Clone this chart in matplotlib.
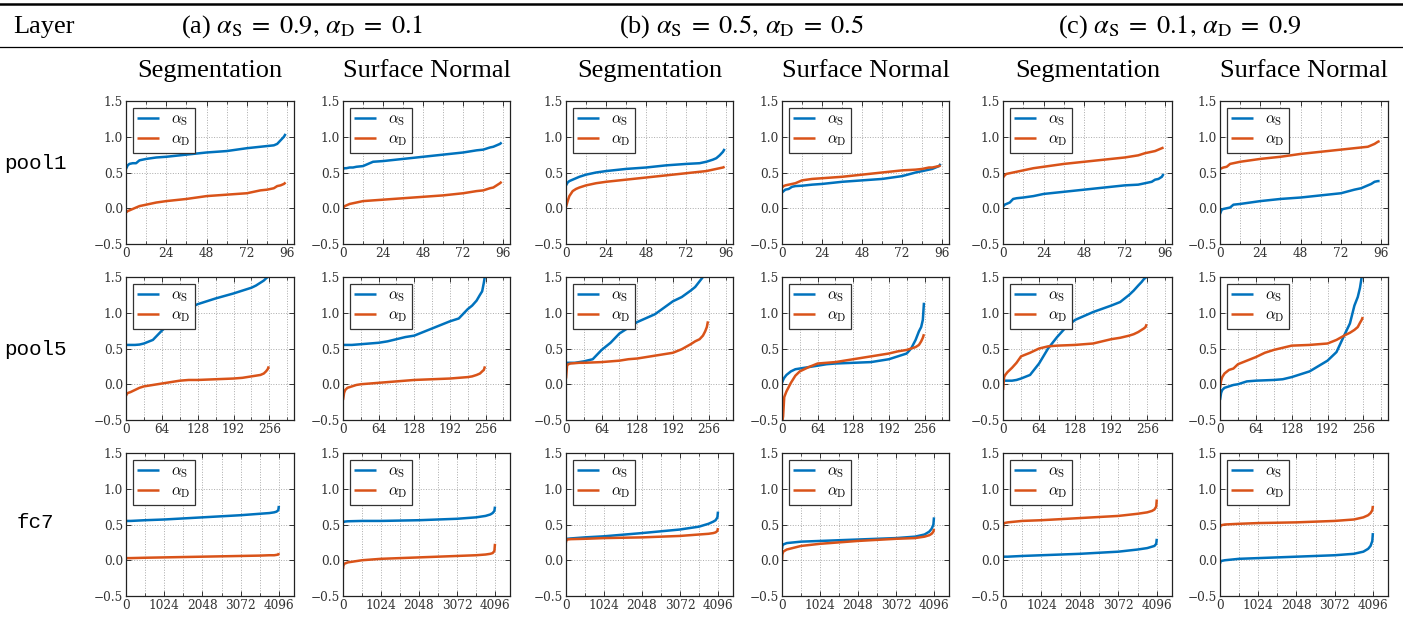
import matplotlib
matplotlib.use("Agg")
import matplotlib.pyplot as plt
from matplotlib.lines import Line2D
from matplotlib.ticker import MultipleLocator

# ---------------- data ----------------
# channel index samples per layer
x_pool1 = [0, 1, 2, 4, 6, 8, 12, 18, 24, 36, 48, 60, 72, 80, 84, 88, 90, 92, 94, 95]
x_pool5 = [0, 2, 4, 8, 16, 24, 32, 48, 64, 80, 96, 112, 128, 160, 192, 208, 224, 232, 240, 246, 250, 253, 255]
x_fc7 = [0, 8, 32, 128, 512, 1024, 2048, 3072, 3584, 3840, 3968, 4032, 4080, 4095]

# pool1
pool1_a_seg_S = [0.55, 0.60, 0.62, 0.63, 0.63, 0.67, 0.69, 0.71, 0.72, 0.75, 0.78, 0.80, 0.84, 0.86, 0.87, 0.88, 0.90, 0.95, 1.00, 1.04]
pool1_a_seg_D = [-0.06, -0.04, -0.03, -0.01, 0.01, 0.03, 0.05, 0.08, 0.10, 0.13, 0.17, 0.19, 0.21, 0.25, 0.26, 0.28, 0.31, 0.32, 0.34, 0.36]
pool1_a_surf_S = [0.55, 0.56, 0.56, 0.57, 0.57, 0.58, 0.59, 0.65, 0.66, 0.69, 0.72, 0.75, 0.78, 0.81, 0.82, 0.85, 0.86, 0.88, 0.90, 0.92]
pool1_a_surf_D = [0.00, 0.03, 0.04, 0.06, 0.07, 0.08, 0.10, 0.11, 0.12, 0.14, 0.16, 0.18, 0.21, 0.24, 0.25, 0.28, 0.29, 0.32, 0.35, 0.37]
pool1_b_seg_S = [0.32, 0.36, 0.38, 0.40, 0.42, 0.44, 0.47, 0.50, 0.52, 0.55, 0.57, 0.60, 0.62, 0.63, 0.65, 0.68, 0.70, 0.74, 0.79, 0.83]
pool1_b_seg_D = [0.02, 0.10, 0.17, 0.24, 0.27, 0.29, 0.32, 0.35, 0.37, 0.40, 0.43, 0.46, 0.49, 0.51, 0.52, 0.54, 0.55, 0.56, 0.57, 0.58]
pool1_b_surf_S = [0.22, 0.24, 0.26, 0.27, 0.30, 0.31, 0.315, 0.33, 0.34, 0.37, 0.39, 0.41, 0.45, 0.50, 0.52, 0.54, 0.55, 0.57, 0.59, 0.62]
pool1_b_surf_D = [0.29, 0.31, 0.32, 0.33, 0.34, 0.35, 0.39, 0.41, 0.42, 0.44, 0.47, 0.50, 0.53, 0.54, 0.55, 0.57, 0.57, 0.58, 0.59, 0.60]
pool1_c_seg_S = [0.02, 0.05, 0.06, 0.08, 0.13, 0.14, 0.15, 0.17, 0.20, 0.23, 0.26, 0.29, 0.32, 0.33, 0.35, 0.37, 0.40, 0.41, 0.44, 0.48]
pool1_c_seg_D = [0.43, 0.46, 0.48, 0.49, 0.50, 0.51, 0.53, 0.56, 0.58, 0.62, 0.65, 0.68, 0.71, 0.74, 0.77, 0.79, 0.80, 0.82, 0.84, 0.85]
pool1_c_surf_S = [-0.08, -0.02, -0.01, 0.00, 0.01, 0.05, 0.06, 0.08, 0.10, 0.13, 0.15, 0.18, 0.21, 0.26, 0.28, 0.32, 0.34, 0.37, 0.38, 0.38]
pool1_c_surf_D = [0.55, 0.56, 0.57, 0.58, 0.62, 0.63, 0.65, 0.67, 0.69, 0.72, 0.76, 0.79, 0.82, 0.84, 0.85, 0.86, 0.88, 0.90, 0.93, 0.94]

# pool5
pool5_a_seg_S = [0.55, 0.55, 0.55, 0.55, 0.55, 0.555, 0.57, 0.62, 0.75, 0.86, 0.98, 1.06, 1.12, 1.20, 1.27, 1.31, 1.35, 1.38, 1.42, 1.45, 1.48, 1.50, 1.52]
pool5_a_seg_D = [-0.16, -0.13, -0.12, -0.11, -0.08, -0.05, -0.03, -0.01, 0.01, 0.03, 0.05, 0.06, 0.06, 0.07, 0.08, 0.09, 0.11, 0.12, 0.13, 0.15, 0.18, 0.21, 0.25]
pool5_a_surf_S = [0.55, 0.55, 0.55, 0.55, 0.55, 0.555, 0.56, 0.57, 0.58, 0.60, 0.63, 0.66, 0.68, 0.78, 0.88, 0.92, 1.05, 1.10, 1.17, 1.25, 1.30, 1.42, 1.52]
pool5_a_surf_D = [-0.22, -0.12, -0.08, -0.05, -0.03, -0.01, 0.00, 0.01, 0.02, 0.03, 0.04, 0.05, 0.06, 0.07, 0.08, 0.09, 0.10, 0.11, 0.13, 0.15, 0.18, 0.20, 0.25]
pool5_b_seg_S = [0.29, 0.30, 0.30, 0.30, 0.30, 0.31, 0.32, 0.35, 0.48, 0.58, 0.71, 0.79, 0.87, 0.98, 1.16, 1.22, 1.31, 1.36, 1.44, 1.50, 1.53, 1.55, 1.56]
pool5_b_seg_D = [0.08, 0.27, 0.28, 0.29, 0.295, 0.30, 0.30, 0.305, 0.31, 0.32, 0.33, 0.35, 0.36, 0.40, 0.44, 0.49, 0.56, 0.60, 0.63, 0.68, 0.74, 0.80, 0.88]
pool5_b_surf_S = [0.02, 0.06, 0.09, 0.13, 0.18, 0.21, 0.22, 0.24, 0.26, 0.28, 0.29, 0.295, 0.30, 0.31, 0.35, 0.39, 0.43, 0.50, 0.62, 0.74, 0.80, 0.90, 1.14]
pool5_b_surf_D = [-0.55, -0.45, -0.18, -0.10, 0.02, 0.12, 0.18, 0.24, 0.29, 0.30, 0.31, 0.33, 0.35, 0.39, 0.43, 0.46, 0.48, 0.50, 0.52, 0.55, 0.60, 0.65, 0.70]
pool5_c_seg_S = [0.05, 0.05, 0.05, 0.05, 0.05, 0.06, 0.08, 0.13, 0.29, 0.50, 0.66, 0.80, 0.90, 1.01, 1.10, 1.15, 1.25, 1.31, 1.38, 1.43, 1.47, 1.49, 1.50]
pool5_c_seg_D = [-0.08, 0.10, 0.13, 0.17, 0.23, 0.30, 0.39, 0.44, 0.50, 0.53, 0.54, 0.545, 0.55, 0.57, 0.63, 0.65, 0.68, 0.70, 0.73, 0.76, 0.78, 0.80, 0.84]
pool5_c_surf_S = [-0.22, -0.12, -0.08, -0.05, -0.03, -0.01, 0.00, 0.04, 0.05, 0.055, 0.06, 0.07, 0.10, 0.18, 0.33, 0.45, 0.72, 0.85, 1.10, 1.22, 1.35, 1.50, 1.55]
pool5_c_surf_D = [-0.05, 0.05, 0.10, 0.15, 0.20, 0.22, 0.28, 0.33, 0.38, 0.44, 0.48, 0.51, 0.54, 0.55, 0.57, 0.62, 0.69, 0.72, 0.76, 0.80, 0.86, 0.90, 0.94]

# fc7
fc7_a_seg_S = [0.54, 0.545, 0.55, 0.55, 0.56, 0.57, 0.60, 0.63, 0.65, 0.66, 0.67, 0.68, 0.70, 0.76]
fc7_a_seg_D = [0.02, 0.025, 0.03, 0.03, 0.035, 0.04, 0.05, 0.06, 0.065, 0.07, 0.07, 0.075, 0.08, 0.10]
fc7_a_surf_S = [0.53, 0.54, 0.54, 0.545, 0.55, 0.55, 0.56, 0.58, 0.60, 0.62, 0.64, 0.66, 0.69, 0.75]
fc7_a_surf_D = [-0.12, -0.08, -0.05, -0.03, 0.00, 0.02, 0.04, 0.06, 0.07, 0.08, 0.09, 0.10, 0.13, 0.23]
fc7_b_seg_S = [0.29, 0.30, 0.30, 0.305, 0.32, 0.335, 0.38, 0.43, 0.47, 0.51, 0.54, 0.56, 0.60, 0.68]
fc7_b_seg_D = [0.25, 0.28, 0.29, 0.295, 0.30, 0.31, 0.32, 0.34, 0.36, 0.37, 0.38, 0.39, 0.41, 0.45]
fc7_b_surf_S = [0.16, 0.20, 0.22, 0.24, 0.26, 0.27, 0.29, 0.31, 0.33, 0.36, 0.40, 0.44, 0.50, 0.60]
fc7_b_surf_D = [0.00, 0.08, 0.12, 0.15, 0.20, 0.23, 0.27, 0.30, 0.31, 0.33, 0.35, 0.37, 0.40, 0.44]
fc7_c_seg_S = [0.04, 0.05, 0.05, 0.05, 0.06, 0.07, 0.09, 0.12, 0.15, 0.17, 0.19, 0.20, 0.23, 0.30]
fc7_c_seg_D = [0.45, 0.50, 0.52, 0.53, 0.55, 0.56, 0.59, 0.62, 0.65, 0.67, 0.69, 0.71, 0.75, 0.85]
fc7_c_surf_S = [-0.05, -0.02, -0.01, 0.00, 0.02, 0.03, 0.05, 0.07, 0.09, 0.12, 0.16, 0.20, 0.27, 0.38]
fc7_c_surf_D = [0.46, 0.48, 0.49, 0.50, 0.51, 0.52, 0.53, 0.55, 0.57, 0.60, 0.63, 0.66, 0.70, 0.76]

layer_names = ["pool1", "pool5", "fc7"]
setting_titles = [r"(a) $\alpha_{\rm S} \;=\; 0.9,\, \alpha_{\rm D} \;=\; 0.1$",
                  r"(b) $\alpha_{\rm S} \;=\; 0.5,\, \alpha_{\rm D} \;=\; 0.5$",
                  r"(c) $\alpha_{\rm S} \;=\; 0.1,\, \alpha_{\rm D} \;=\; 0.9$"]
task_titles = ["Segmentation", "Surface Normal"]
x_ticks = {"pool1": [0, 24, 48, 72, 96], "pool5": [0, 64, 128, 192, 256],
           "fc7": [0, 1024, 2048, 3072, 4096]}
y_ticks = [-0.5, 0.0, 0.5, 1.0, 1.5]

# ---------------- layout ----------------
W, H = 1403, 621
fig = plt.figure(figsize=(W / 100, H / 100), dpi=100)

col_px = [(126, 294), (343, 510), (566, 733), (782, 949), (1003, 1172), (1220, 1388)]
row_px = [(101, 244), (277, 420), (453, 596)]
xlims = {"pool1": 100, "pool5": 300, "fc7": 4500}
minor = {"pool1": 12, "pool5": 32, "fc7": 512}

xs = {"pool1": x_pool1, "pool5": x_pool5, "fc7": x_fc7}
curves = {
    "pool1": [(pool1_a_seg_S, pool1_a_seg_D), (pool1_a_surf_S, pool1_a_surf_D),
              (pool1_b_seg_S, pool1_b_seg_D), (pool1_b_surf_S, pool1_b_surf_D),
              (pool1_c_seg_S, pool1_c_seg_D), (pool1_c_surf_S, pool1_c_surf_D)],
    "pool5": [(pool5_a_seg_S, pool5_a_seg_D), (pool5_a_surf_S, pool5_a_surf_D),
              (pool5_b_seg_S, pool5_b_seg_D), (pool5_b_surf_S, pool5_b_surf_D),
              (pool5_c_seg_S, pool5_c_seg_D), (pool5_c_surf_S, pool5_c_surf_D)],
    "fc7": [(fc7_a_seg_S, fc7_a_seg_D), (fc7_a_surf_S, fc7_a_surf_D),
            (fc7_b_seg_S, fc7_b_seg_D), (fc7_b_surf_S, fc7_b_surf_D),
            (fc7_c_seg_S, fc7_c_seg_D), (fc7_c_surf_S, fc7_c_surf_D)],
}

BLUE = "#0072BD"
RED = "#D95319"

for r, layer in enumerate(layer_names):
    top, bot = row_px[r]
    for c in range(6):
        left, right = col_px[c]
        ax = fig.add_axes([left / W, 1 - bot / H, (right - left) / W, (bot - top) / H])
        sS, sD = curves[layer][c]
        ax.plot(xs[layer], sS, color=BLUE, lw=1.8, label=r"$\alpha_{\rm S}$", solid_capstyle="butt")
        ax.plot(xs[layer], sD, color=RED, lw=1.8, label=r"$\alpha_{\rm D}$", solid_capstyle="butt")
        ax.set_xlim(0, xlims[layer])
        ax.set_ylim(-0.5, 1.5)
        ax.set_xticks(x_ticks[layer])
        ax.xaxis.set_minor_locator(MultipleLocator(minor[layer]))
        ax.set_yticks(y_ticks)
        ax.set_yticklabels(["\u22120.5", "0.0", "0.5", "1.0", "1.5"])
        ax.tick_params(which="both", direction="in", top=True, right=True,
                       labelsize=8.7, colors="#333333", pad=2)
        ax.tick_params(which="major", length=3.5, width=0.7)
        ax.tick_params(which="minor", length=2, width=0.6)
        for lab in ax.get_xticklabels() + ax.get_yticklabels():
            lab.set_family("DejaVu Serif")
        ax.grid(True, which="both", axis="x", linestyle=":", color="#aaaaaa", lw=0.7)
        ax.grid(True, which="major", axis="y", linestyle=":", color="#aaaaaa", lw=0.7)
        for sp in ax.spines.values():
            sp.set_linewidth(0.9)
            sp.set_color("#222222")
        leg = ax.legend(loc="upper left", handlelength=1.4,
                        handletextpad=0.8, labelspacing=0.3, borderpad=0.3,
                        borderaxespad=0.45, fancybox=False, framealpha=1,
                        edgecolor="#333333", prop={"family": "DejaVu Serif", "size": 11})
        leg.get_frame().set_linewidth(0.9)
        for t in leg.get_texts():
            t.set_math_fontfamily("cm")

# ---------------- table header ----------------
fig.add_artist(Line2D([0, 1], [1 - 3.5 / H, 1 - 3.5 / H], color="black", lw=1.8))
fig.add_artist(Line2D([0, 1], [1 - 47 / H, 1 - 47 / H], color="black", lw=0.9))

hdr_y = 1 - 27 / H
fig.text(44 / W, hdr_y, "Layer", ha="center", va="center", fontsize=19,
         family="Liberation Serif")
for cx, t in zip([302, 741, 1180], setting_titles):
    fig.text(cx / W, hdr_y, t, ha="center", va="center", fontsize=19,
             family="Liberation Serif", math_fontfamily="stix")

for c in range(6):
    left, right = col_px[c]
    fig.text((left + right) / 2 / W, 1 - 71 / H, task_titles[c % 2], ha="center",
             va="center", fontsize=19, family="Liberation Serif")

for (cy, name) in zip([163, 349, 523], layer_names):
    fig.text(35 / W, 1 - cy / H, name, ha="center", va="center", fontsize=15,
             family="Liberation Mono")

fig.savefig("out.png", dpi=100)
